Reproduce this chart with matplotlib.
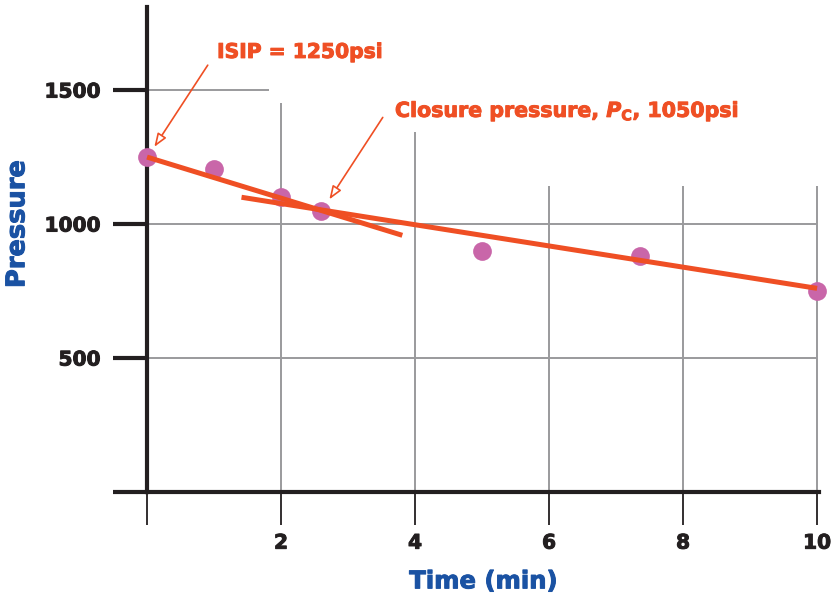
import matplotlib
matplotlib.use("Agg")
import matplotlib.pyplot as plt
import matplotlib.patheffects as pe
import numpy as np

# Shut-in pressure decline data
time_min = [0.0, 1.0, 2.0, 2.6, 5.0, 7.35, 10.0]
pressure_psi = [1250, 1205, 1100, 1050, 900, 880, 750]

# Straight-line fits before and after fracture closure
early_fit_t = [0.0, 3.81]
early_fit_p = [1250, 958]
late_fit_t = [1.41, 10.0]
late_fit_p = [1100, 760]

isip_psi = 1250
closure_psi = 1050

x_ticks = [0, 2, 4, 6, 8, 10]
x_ticklabels = ["", "2", "4", "6", "8", "10"]
y_ticks = [0, 500, 1000, 1500]
y_ticklabels = ["", "500", "1000", "1500"]

ORANGE = "#EF4F24"
PINK = "#C966A9"
BLUE = "#1A52A3"
INK = "#231F20"
GRID = "#9A9A9C"

plt.rcParams["font.family"] = ["DejaVu Sans"]
plt.rcParams["mathtext.fontset"] = "custom"
plt.rcParams["mathtext.rm"] = "DejaVu Sans:bold"
plt.rcParams["mathtext.it"] = "DejaVu Sans:bold:italic"
plt.rcParams["mathtext.bf"] = "DejaVu Sans:bold"


def heavy(color):
    # thicken the bold glyphs a little
    return [pe.withStroke(linewidth=0.7, foreground=color)]


fig = plt.figure(figsize=(8.34, 5.95), dpi=100)
ax = fig.add_axes([0.1763, 0.1731, 0.8058, 0.8151])
ax.set_xlim(0, 10.03)
ax.set_ylim(0, 1810)

# partial grid
ax.hlines([1000, 500], 0, 10, colors=GRID, lw=1.4, zorder=1)
ax.hlines([1500], 0, 1.82, colors=GRID, lw=1.4, zorder=1)
ax.vlines([2, 4, 6, 8, 10], 0, [1451, 1343, 1142, 1142, 1142], colors=GRID, lw=1.4, zorder=1)

for side in ("top", "right"):
    ax.spines[side].set_visible(False)
for side in ("left", "bottom"):
    ax.spines[side].set_linewidth(3)
    ax.spines[side].set_color(INK)
    ax.spines[side].set_zorder(2)

ax.set_xticks(x_ticks)
ax.set_xticklabels(x_ticklabels)
ax.set_yticks(y_ticks)
ax.set_yticklabels(y_ticklabels)
ax.tick_params(axis="x", direction="out", length=24, width=1.3, color=INK, pad=6,
               labelsize=14.5, labelcolor=INK)
ax.tick_params(axis="y", direction="out", length=24.5, width=3, color=INK, pad=9,
               labelsize=14.5, labelcolor=INK)
for lab in ax.get_xticklabels() + ax.get_yticklabels():
    lab.set_fontweight("bold")
    lab.set_path_effects(heavy(INK))

ax.plot(time_min, pressure_psi, "o", color=PINK, ms=13.5, mec="none", zorder=3, clip_on=False)
ax.plot(early_fit_t, early_fit_p, color=ORANGE, lw=3.6, solid_capstyle="butt", zorder=4, clip_on=False)
ax.plot(late_fit_t, late_fit_p, color=ORANGE, lw=3.6, solid_capstyle="butt", zorder=4, clip_on=False)

xl = ax.set_xlabel("Time (min)", fontsize=17.5, fontweight="bold", color=BLUE, labelpad=12)
xl.set_path_effects(heavy(BLUE))
yl = ax.set_ylabel("Pressure", fontsize=18.5, fontweight="bold", color=BLUE, va="center")
yl.set_path_effects(heavy(BLUE))
ax.yaxis.set_label_coords(-0.193, 0.5526)

arrow_style = dict(arrowstyle="-|>,head_length=0.8,head_width=0.3", fc="white", ec=ORANGE,
                   lw=1.2, shrinkA=0, shrinkB=0)
ax.text(1.045, 1620, f"ISIP = {isip_psi}psi", color=ORANGE, fontsize=14.6, fontweight="bold",
        ha="left", va="baseline", path_effects=heavy(ORANGE))
ax.annotate("", xy=(0.109, 1288), xytext=(0.906, 1593), arrowprops=arrow_style, zorder=5)

ax.text(3.70, 1400, "Closure pressure, $P_{\\mathrm{C}}$, " + f"{closure_psi}psi", color=ORANGE,
        fontsize=14.8, fontweight="bold", ha="left", va="baseline", path_effects=heavy(ORANGE))
ax.annotate("", xy=(2.721, 1092), xytext=(3.518, 1398), arrowprops=arrow_style, zorder=5)

fig.savefig("out.png", dpi=100)
